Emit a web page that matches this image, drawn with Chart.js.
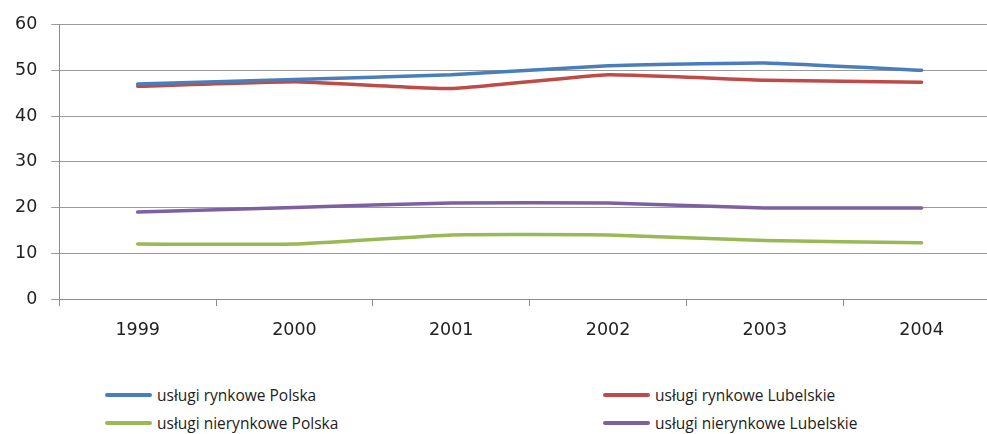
<!DOCTYPE html>
<html lang="pl">
<head>
<meta charset="UTF-8">
<title>Usługi</title>
<script src="https://cdn.jsdelivr.net/npm/chart.js"></script>
<style>
  html, body { margin: 0; padding: 0; background: #fff; overflow: hidden; }
  .wrap { position: relative; width: 1000px; height: 434px; }
  #chartBox { position: absolute; left: 0; top: 0; width: 1000px; height: 355px; }
  #legend { position: absolute; left: 0; top: 384px; width: 987px; font-family: "Open Sans", sans-serif; font-size: 15.5px; color: #222; }
  .item { position: absolute; display: flex; align-items: center; white-space: nowrap; }
  .item span.sw { display: inline-block; width: 47px; height: 4px; border-radius: 2px; margin-right: 5px; }
</style>
</head>
<body>
<div class="wrap">
  <div id="chartBox"><canvas id="servicesChart"></canvas></div>
  <div id="legend"></div>
</div>
<script>
const years = ['1999', '2000', '2001', '2002', '2003', '2004'];
const rynkowePolska = [47, 48, 49, 51, 51.6, 50];
const rynkoweLubelskie = [46.5, 47.5, 46, 49, 47.8, 47.4];
const nierynkowePolska = [12, 12, 14, 14, 12.8, 12.3];
const nierynkoweLubelskie = [19, 20, 21, 21, 19.9, 19.9];
const yTicks = [0, 10, 20, 30, 40, 50, 60];

const seriesNames = ['usługi rynkowe Polska', 'usługi rynkowe Lubelskie', 'usługi nierynkowe Polska', 'usługi nierynkowe Lubelskie'];
const seriesColors = ['#4a7ebb', '#be4b48', '#98b954', '#7d60a0'];
const seriesData = [rynkowePolska, rynkoweLubelskie, nierynkowePolska, nierynkoweLubelskie];

const tickFont = { family: 'DejaVu Sans', size: 17.5 };

const ctx = document.getElementById('servicesChart').getContext('2d');
const chart = new Chart(ctx, {
    type: 'line',
    data: {
        labels: years,
        datasets: seriesData.map(function (d, i) {
            return {
                label: seriesNames[i],
                data: d,
                borderColor: seriesColors[i],
                backgroundColor: seriesColors[i],
                borderWidth: 3.5,
                pointRadius: 0,
                tension: 0.12,
                borderCapStyle: 'round'
            };
        })
    },
    options: {
        responsive: true,
        maintainAspectRatio: false,
        animation: false,
        layout: { padding: { top: 10, right: 0, left: 1, bottom: 0 } },
        plugins: {
            legend: { display: false },
            tooltip: { enabled: false }
        },
        scales: {
            x: {
                offset: true,
                grid: { display: true, offset: true, drawOnChartArea: false, drawTicks: true, tickLength: 7, color: '#8c8c8c' },
                border: { display: true, color: '#8c8c8c', width: 1 },
                ticks: { color: '#222', padding: 14, font: tickFont }
            },
            y: {
                min: 0,
                max: 60,
                afterBuildTicks: function (axis) {
                    axis.ticks = yTicks.map(function (v) { return { value: v }; });
                },
                grid: { color: '#9a9a9a', tickLength: 8, drawTicks: true },
                border: { display: true, color: '#8c8c8c', width: 1 },
                ticks: { color: '#222', padding: 14, font: tickFont }
            }
        }
    }
});

// legend in two columns like the original
const legend = document.getElementById('legend');
const cols = [105, 603];
chart.data.datasets.forEach(function (ds, i) {
    const el = document.createElement('div');
    el.className = 'item';
    el.style.left = cols[i % 2] + 'px';
    el.style.top = (Math.floor(i / 2) * 28) + 'px';
    el.innerHTML = '<span class="sw" style="background:' + ds.borderColor + '"></span>' + ds.label;
    legend.appendChild(el);
});
</script>
</body>
</html>
